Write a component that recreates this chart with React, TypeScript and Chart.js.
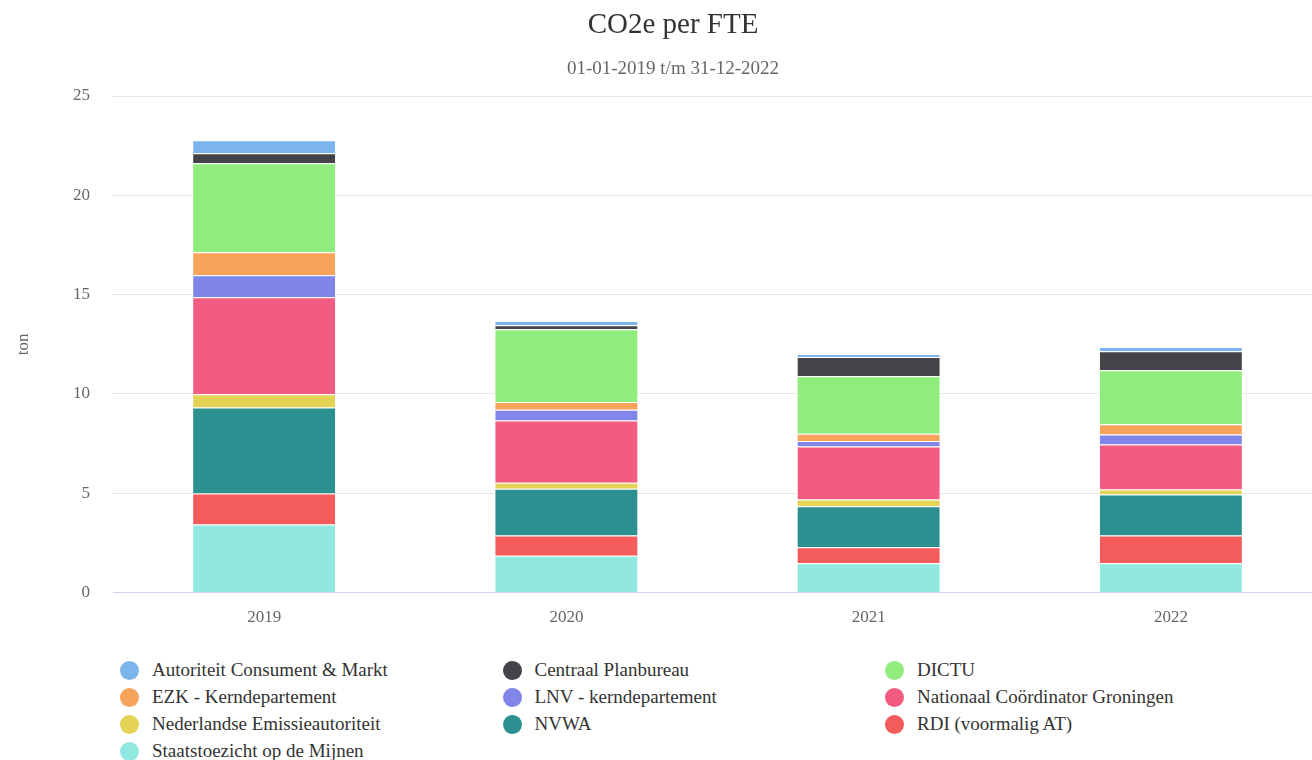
import React, { useEffect, useRef } from "react";
import { Chart, registerables } from "chart.js";

Chart.register(...registerables);

const categories = ["2019", "2020", "2021", "2022"];

const legendOrder = [
  "Autoriteit Consument & Markt",
  "Centraal Planbureau",
  "DICTU",
  "EZK - Kerndepartement",
  "LNV - kerndepartement",
  "Nationaal Coördinator Groningen",
  "Nederlandse Emissieautoriteit",
  "NVWA",
  "RDI (voormalig AT)",
  "Staatstoezicht op de Mijnen",
];

const colors = [
  "#7cb5ec",
  "#434348",
  "#90ed7d",
  "#f7a35c",
  "#8085e9",
  "#f15c80",
  "#e4d354",
  "#2b908f",
  "#f45b5b",
  "#91e8e1",
];

// values per series (legend order), per year 2019..2022
const acm = [0.65, 0.21, 0.15, 0.21];
const cpb = [0.5, 0.2, 0.97, 0.96];
const dictu = [4.48, 3.67, 2.89, 2.72];
const ezk = [1.16, 0.38, 0.37, 0.51];
const lnv = [1.11, 0.54, 0.27, 0.5];
const ncg = [4.89, 3.14, 2.67, 2.27];
const nea = [0.66, 0.3, 0.34, 0.25];
const nvwa = [4.33, 2.36, 2.07, 2.07];
const rdi = [1.56, 1.01, 0.8, 1.39];
const sodm = [3.43, 1.86, 1.48, 1.48];

const seriesValues = [acm, cpb, dictu, ezk, lnv, ncg, nea, nvwa, rdi, sodm];

const yTicks = [0, 5, 10, 15, 20, 25];

const titleText = "CO2e per FTE";
const subtitleText = "01-01-2019 t/m 31-12-2022";
const yAxisTitle = "ton";

const FONT = "'Liberation Serif', 'Times New Roman', serif";

export default function App() {
  const ref = useRef<HTMLCanvasElement | null>(null);

  useEffect(() => {
    if (!ref.current) return;
    // bottom-up stacking: reverse legend order
    const datasets = legendOrder
      .map((label, i) => ({
        label,
        data: seriesValues[i],
        backgroundColor: colors[i],
        borderColor: "#ffffff",
        borderWidth: 1,
        barPercentage: 0.476,
        categoryPercentage: 1,
      }))
      .reverse();

    const chart = new Chart(ref.current, {
      type: "bar",
      data: { labels: categories, datasets },
      options: {
        animation: false,
        responsive: false,
        maintainAspectRatio: false,
        layout: { padding: { left: 10, right: 24, top: 96, bottom: 14 } },
        plugins: {
          legend: { display: false },
          tooltip: { enabled: false },
          title: { display: false },
          subtitle: { display: false },
        },
        scales: {
          x: {
            stacked: true,
            grid: { display: false, drawTicks: false },
            border: { display: true, color: "#ccd6eb", width: 1 },
            ticks: {
              color: "#666666",
              font: { family: FONT, size: 17 },
              padding: 15,
            },
          },
          y: {
            stacked: true,
            min: 0,
            max: 25,
            afterBuildTicks: (scale: any) => {
              scale.ticks = yTicks.map((v) => ({ value: v }));
            },
            afterFit: (scale: any) => {
              scale.width = 103;
            },
            grid: { color: "#e6e6e6", drawTicks: false },
            border: { display: false },
            ticks: {
              color: "#666666",
              font: { family: FONT, size: 17 },
              padding: 23,
            },
            title: {
              display: true,
              text: yAxisTitle,
              color: "#666666",
              font: { family: FONT, size: 17 },
              padding: { top: 3, bottom: 0 },
            },
          },
        },
      },
    });
    return () => chart.destroy();
  }, []);

  return (
    <div
      style={{
        position: "absolute",
        left: 0,
        top: 0,
        width: 1312,
        height: 760,
        overflow: "hidden",
        background: "#ffffff",
        fontFamily: FONT,
      }}
    >
      <canvas
        ref={ref}
        width={1346}
        height={657}
        style={{ position: "absolute", left: 0, top: 0, width: 1346, height: 657 }}
      />
      <div
        style={{
          position: "absolute",
          left: 0,
          top: 9,
          width: 1346,
          textAlign: "center",
          fontSize: 29,
          lineHeight: "29px",
          color: "#333333",
          whiteSpace: "nowrap",
        }}
      >
        {titleText}
      </div>
      <div
        style={{
          position: "absolute",
          left: 0,
          top: 58,
          width: 1346,
          textAlign: "center",
          fontSize: 19,
          lineHeight: "19px",
          color: "#666666",
          whiteSpace: "nowrap",
        }}
      >
        {subtitleText}
      </div>
      {legendOrder.map((label, i) => {
        const col = i % 3;
        const row = Math.floor(i / 3);
        return (
          <div
            key={label}
            style={{
              position: "absolute",
              left: 120 + col * 382.5,
              top: 657 + row * 27,
              height: 26,
              display: "flex",
              alignItems: "center",
              whiteSpace: "nowrap",
              fontSize: 19,
              color: "#333333",
            }}
          >
            <span
              style={{
                display: "inline-block",
                width: 19,
                height: 19,
                borderRadius: "50%",
                background: colors[i],
                marginRight: 13,
                flexShrink: 0,
              }}
            />
            <span>{label}</span>
          </div>
        );
      })}
    </div>
  );
}
